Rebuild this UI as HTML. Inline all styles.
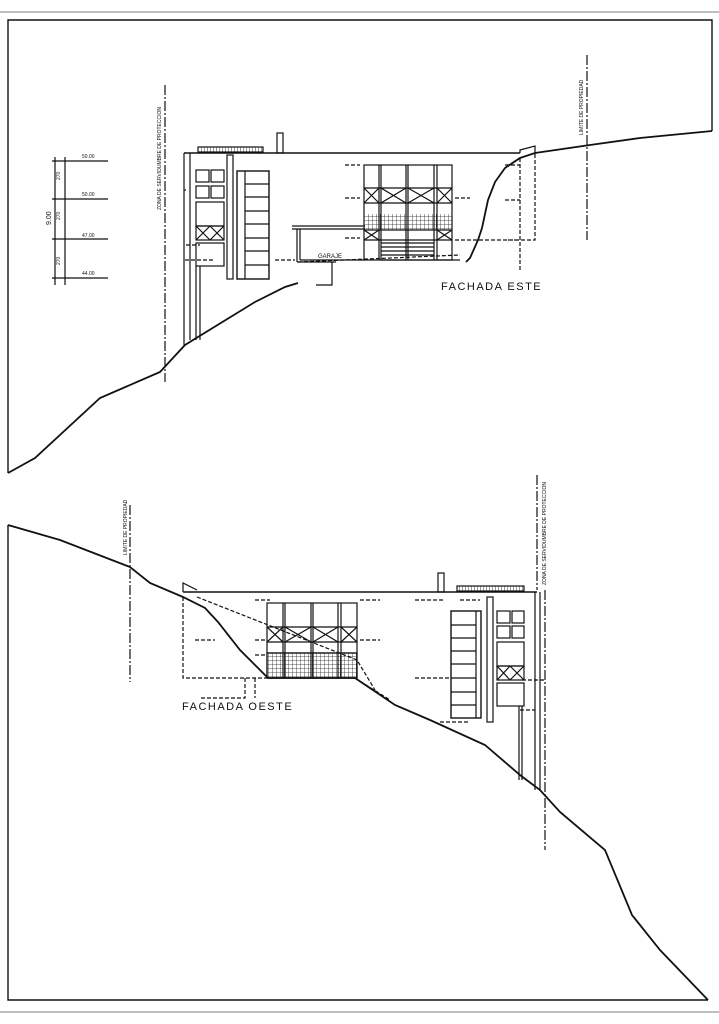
<!DOCTYPE html>
<html><head><meta charset="utf-8"><style>
html,body{margin:0;padding:0;background:#fff;}
svg{display:block;}
text{font-family:"Liberation Sans",sans-serif;fill:#111;}
</style></head><body>
<svg width="719" height="1024" viewBox="0 0 719 1024" xmlns="http://www.w3.org/2000/svg">
<defs>
<pattern id="grid" width="4" height="4" patternUnits="userSpaceOnUse"><path d="M0 0H4M0 0V4" stroke="#222" stroke-width="0.8" fill="none"/></pattern>
<pattern id="hat" width="3" height="6" patternUnits="userSpaceOnUse"><path d="M0 0V6" stroke="#222" stroke-width="0.9"/></pattern>
</defs>
<g fill="none" stroke="#111" stroke-width="1.2">
<line x1="0" y1="12" x2="719" y2="12" stroke="#999"/>
<line x1="0" y1="1012" x2="719" y2="1012" stroke="#999"/>
<polyline points="8,473 8,20 712,20 712,131" stroke-width="1.4"/>
<polyline points="8,525 8,1000 708,1000" stroke-width="1.4"/>

<polyline stroke-width="1.8" points="8,473 35,458 100,398 160,372 185,345 255,302 285,287 298,283"/>
<polyline stroke-width="1.8" points="712,131 640,138 590,145 535,153 520,158 505,168 495,182 488,200 482,228 478,240 470,258 466,262"/>

<line x1="55" y1="157" x2="55" y2="285"/><line x1="65" y1="157" x2="65" y2="285"/>
<line x1="52" y1="161" x2="108" y2="161"/><line x1="52" y1="199" x2="108" y2="199"/>
<line x1="52" y1="239" x2="108" y2="239"/><line x1="52" y1="278" x2="108" y2="278"/>
<line x1="165" y1="85" x2="165" y2="382" stroke-dasharray="10,2,2,2"/>
<line x1="587" y1="55" x2="587" y2="240" stroke-dasharray="10,2,2,2"/>

<line x1="184" y1="153" x2="520" y2="153" stroke-width="1.5"/>
<polyline points="520,153 520,150 535,146 535,158"/>
<line x1="184" y1="153" x2="184" y2="345"/><line x1="190" y1="153" x2="190" y2="340"/>
<rect x="198" y="147" width="65" height="5" fill="url(#hat)"/>
<rect x="277" y="133" width="6" height="20"/>
<rect x="196" y="170" width="13" height="12"/><rect x="211" y="170" width="13" height="12"/>
<rect x="196" y="186" width="13" height="12"/><rect x="211" y="186" width="13" height="12"/>
<rect x="196" y="202" width="28" height="24"/>
<rect x="196" y="226" width="28" height="14"/><path d="M196 226L210 240M210 226L196 240M210 226L224 240M224 226L210 240"/>
<rect x="196" y="243" width="28" height="23"/>
<line x1="200" y1="266" x2="200" y2="340"/><line x1="196" y1="266" x2="196" y2="340"/>
<rect x="227" y="155" width="6" height="124"/>
<rect x="237" y="171" width="32" height="108" stroke-width="1.4"/>
<path d="M245 171V279M245 184H269M245 197H269M245 211H269M245 224H269M245 238H269M245 251H269M245 265H269"/>
<path d="M292 226H365M292 229H365M297 229V262M300 229V260M300 260H365M297 262H332V285H316M332 262H336"/>
<text x="318" y="258" font-size="6" stroke="none">GARAJE</text>
<rect x="364" y="165" width="88" height="95"/>
<path d="M379 165V260M381 165V260M406 165V260M408 165V260M434 165V260M437 165V260"/>
<path d="M364 188H452M364 203H452M364 230H452M364 240H452"/>
<path d="M364 188L379 203M379 188L364 203M381 188L406 203M406 188L381 203M408 188L434 203M434 188L408 203M437 188L452 203M452 188L437 203"/>
<rect x="364" y="214" width="88" height="16" fill="url(#grid)" stroke="none"/>
<path d="M364 230L379 240M379 230L364 240M437 230L452 240M452 230L437 240"/>
<path d="M381 243H434M381 247H434M381 251H434M381 255H434M381 260H460"/>
<g stroke-dasharray="4,2">
<path d="M455 240H535V158M298 262L460 255M345 165H360M345 198H360M345 238H360M455 198H470M505 165H520M505 200H520M508 240H520M520 158V270"/>
<path d="M186 190H184M186 245H200M185 260H215M275 260H295"/>
</g>
<text x="441" y="290" font-size="11" letter-spacing="1.5" stroke="none">FACHADA  ESTE</text>

<polyline stroke-width="1.8" points="8,525 60,540 130,567 150,583 183,597 205,608 218,622 240,650 268,678 355,678 395,705 430,720 485,745 520,775 540,790 560,812 605,850 632,915 660,950 708,1000"/>
<line x1="130" y1="505" x2="130" y2="682" stroke-dasharray="10,2,2,2"/>
<line x1="537" y1="475" x2="537" y2="590" stroke-dasharray="10,2,2,2"/>
<line x1="545" y1="590" x2="545" y2="850" stroke-dasharray="10,2,2,2"/>
<line x1="183" y1="592" x2="537" y2="592" stroke-width="1.5"/>
<polyline points="183,592 183,583 197,590"/>
<rect x="457" y="586" width="67" height="5" fill="url(#hat)"/>
<rect x="438" y="573" width="6" height="19"/>
<rect x="267" y="603" width="90" height="75"/>
<path d="M283 603V678M285 603V678M311 603V678M313 603V678M338 603V678M341 603V678"/>
<path d="M267 627H357M267 642H357M267 653H357"/>
<path d="M267 627L283 642M283 627L267 642M285 627L311 642M311 627L285 642M313 627L338 642M338 627L313 642M341 627L357 642M357 627L341 642"/>
<rect x="267" y="653" width="90" height="25" fill="url(#grid)"/>
<rect x="451" y="611" width="30" height="107" stroke-width="1.4"/>
<path d="M476 611V718M451 625H476M451 638H476M451 651H476M451 664H476M451 678H476M451 692H476M451 705H476"/>
<rect x="487" y="597" width="6" height="125"/>
<rect x="497" y="611" width="13" height="12"/><rect x="512" y="611" width="12" height="12"/>
<rect x="497" y="626" width="13" height="12"/><rect x="512" y="626" width="12" height="12"/>
<rect x="497" y="642" width="27" height="24"/>
<rect x="497" y="666" width="27" height="14"/><path d="M497 666L510 680M510 666L497 680M510 666L524 680M524 666L510 680"/>
<rect x="497" y="683" width="27" height="23"/>
<path d="M519 706V780M522 706V780M535 592V790M540 592V790"/>
<g stroke-dasharray="4,2">
<path d="M183 597V678H267M245 678V698H200M255 678V698M355 678L390 700M197 597L357 660L375 690"/>
<path d="M195 640H215M255 600H270M255 640H265M255 655H267M360 600H380M360 640H380M415 600H445M460 600H480M415 678H450M440 722H470M522 680H545M520 710H535"/>
</g>
<text x="182" y="710" font-size="11" letter-spacing="1.5" stroke="none">FACHADA  OESTE</text>
</g>
<g font-size="5" stroke="none">
<text x="82" y="158">50.00</text><text x="82" y="196">50.00</text>
<text x="82" y="237">47.00</text><text x="82" y="275">44.00</text>
<text x="60" y="180" transform="rotate(-90 60 180)">270</text>
<text x="60" y="220" transform="rotate(-90 60 220)">270</text>
<text x="60" y="265" transform="rotate(-90 60 265)">270</text>
<text x="51" y="225" font-size="7" transform="rotate(-90 51 225)">9.00</text>
<text x="161" y="210" transform="rotate(-90 161 210)">ZONA DE SERVIDUMBRE DE PROTECCION</text>
<text x="583" y="135" transform="rotate(-90 583 135)">LIMITE DE PROPIEDAD</text>
<text x="127" y="555" transform="rotate(-90 127 555)">LIMITE DE PROPIEDAD</text>
<text x="546" y="585" transform="rotate(-90 546 585)">ZONA DE SERVIDUMBRE DE PROTECCION</text>
</g>
</svg>
</body></html>
